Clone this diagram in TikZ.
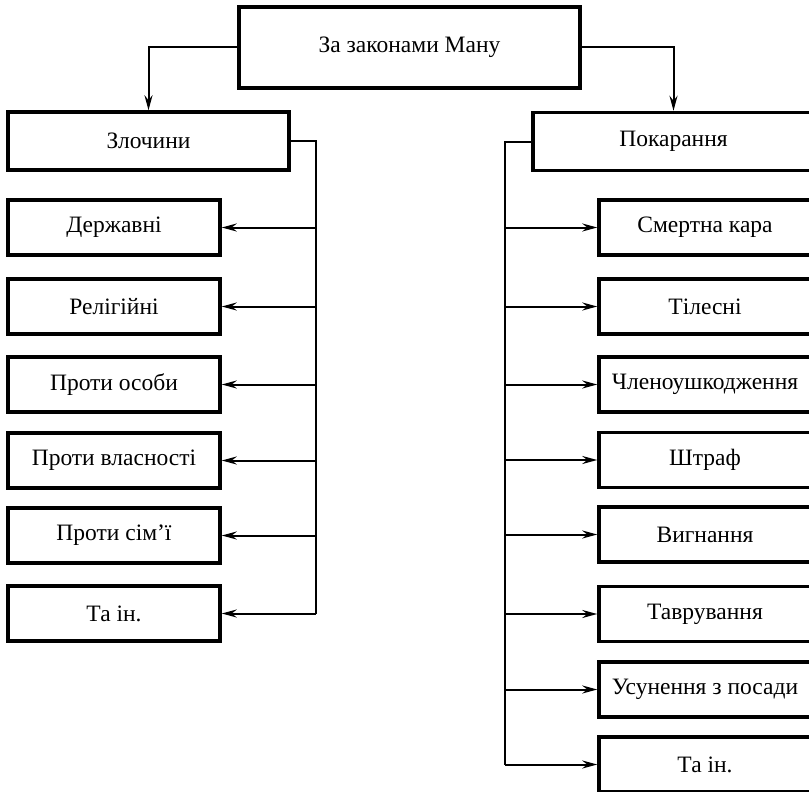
\documentclass[tikz,border=0pt]{standalone}
\usepackage{fontspec}
\setmainfont{Liberation Serif}
\usepackage{tikz}
\usetikzlibrary{arrows.meta}

\begin{document}
\begin{tikzpicture}[x=1pt,y=-1pt]
                \tikzstyle{block}=[draw=black, fill=white, line width=3.5pt, inner sep=0pt, font=\fontsize{23.5}{28}\selectfont]
                \tikzstyle{small}=[block, minimum width=212pt, minimum height=55pt]
                \tikzstyle{head}=[block, minimum width=281pt, minimum height=58pt]
                \tikzstyle{edge} = [draw, line width=2pt, -]
                \tikzstyle{arr} = [edge, -{Stealth[length=15pt,width=8pt,inset=5pt]}]

                \clip (0,0) rectangle (809,792);

                \node[block, minimum width=341pt, minimum height=81pt] (root) at (409.5,47.5) {За законами Ману};
                \node[head] (crimes) at (148.5,141) {Злочини};
                \node[head] (punish) at (673.5,141.5) {Покарання};

                \node[small] (l1) at (114,227.5) {Державні};
                \node[small] (l2) at (114,306.5) {Релігійні};
                \node[small] (l3) at (114,384.5) {Проти особи};
                \node[small] (l4) at (114,460.5) {Проти власності};
                \node[small] (l5) at (114,535.5) {Проти сім'ї};
                \node[small] (l6) at (114,613.5) {Та ін.};

                \node[small] (r1) at (705,227.5) {Смертна кара};
                \node[small] (r2) at (705,306.5) {Тілесні};
                \node[small] (r3) at (705,384.5) {Членоушкодження};
                \node[small] (r4) at (705,460) {Штраф};
                \node[small] (r5) at (705,534.5) {Вигнання};
                \node[small] (r6) at (705,614) {Таврування};
                \node[small] (r7) at (705,689.5) {Усунення з посади};
                \node[small] (r8) at (705,764.5) {Та ін.};

                \path[arr] (root.west) -| (crimes.north);
                \path[arr] (root.east) -| (punish.north);

                \coordinate (lbus) at (316,141);
                \coordinate (rbus) at (505,141.5);
                \path[edge] (crimes.east) -- (lbus) -- (lbus |- l6.east);
                \path[edge] (punish.west) -- (rbus) -- (rbus |- r8.west);

                \foreach \i in {1,...,6}
                \path[arr] (lbus |- l\i.east) -- (l\i.east);
                \foreach \i in {1,...,8}
                \path[arr] (rbus |- r\i.west) -- (r\i.west);
            \end{tikzpicture}
\end{document}
